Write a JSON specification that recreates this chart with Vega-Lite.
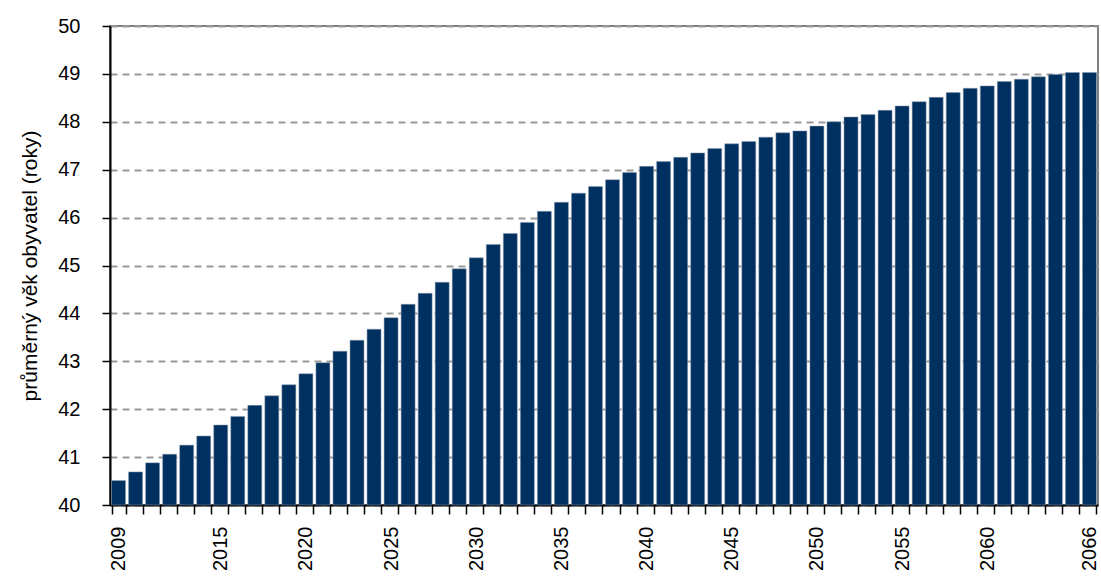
{
  "$schema": "https://vega.github.io/schema/vega-lite/v6.json",
  "width": 988,
  "height": 479,
  "autosize": {"type": "none"},
  "padding": {"left": 110, "top": 26, "right": 3, "bottom": 73},
  "background": "white",
  "config": {
    "font": "Liberation Sans",
    "view": {"stroke": "#7f7f7f", "strokeWidth": 2}
  },
  "data": {
    "values": [
      {"rok": 2009, "vek": 40.51}, {"rok": 2010, "vek": 40.69}, {"rok": 2011, "vek": 40.88},
      {"rok": 2012, "vek": 41.06}, {"rok": 2013, "vek": 41.25}, {"rok": 2014, "vek": 41.44},
      {"rok": 2015, "vek": 41.67}, {"rok": 2016, "vek": 41.85}, {"rok": 2017, "vek": 42.08},
      {"rok": 2018, "vek": 42.28}, {"rok": 2019, "vek": 42.51}, {"rok": 2020, "vek": 42.74},
      {"rok": 2021, "vek": 42.97}, {"rok": 2022, "vek": 43.21}, {"rok": 2023, "vek": 43.44},
      {"rok": 2024, "vek": 43.67}, {"rok": 2025, "vek": 43.91}, {"rok": 2026, "vek": 44.19},
      {"rok": 2027, "vek": 44.42}, {"rok": 2028, "vek": 44.65}, {"rok": 2029, "vek": 44.93},
      {"rok": 2030, "vek": 45.16}, {"rok": 2031, "vek": 45.44}, {"rok": 2032, "vek": 45.67},
      {"rok": 2033, "vek": 45.90}, {"rok": 2034, "vek": 46.13}, {"rok": 2035, "vek": 46.32},
      {"rok": 2036, "vek": 46.51}, {"rok": 2037, "vek": 46.65}, {"rok": 2038, "vek": 46.79},
      {"rok": 2039, "vek": 46.94}, {"rok": 2040, "vek": 47.07}, {"rok": 2041, "vek": 47.17},
      {"rok": 2042, "vek": 47.26}, {"rok": 2043, "vek": 47.35}, {"rok": 2044, "vek": 47.44},
      {"rok": 2045, "vek": 47.54}, {"rok": 2046, "vek": 47.59}, {"rok": 2047, "vek": 47.68},
      {"rok": 2048, "vek": 47.77}, {"rok": 2049, "vek": 47.81}, {"rok": 2050, "vek": 47.91},
      {"rok": 2051, "vek": 48.00}, {"rok": 2052, "vek": 48.10}, {"rok": 2053, "vek": 48.15},
      {"rok": 2054, "vek": 48.24}, {"rok": 2055, "vek": 48.33}, {"rok": 2056, "vek": 48.42},
      {"rok": 2057, "vek": 48.51}, {"rok": 2058, "vek": 48.61}, {"rok": 2059, "vek": 48.70},
      {"rok": 2060, "vek": 48.75}, {"rok": 2061, "vek": 48.84}, {"rok": 2062, "vek": 48.89},
      {"rok": 2063, "vek": 48.94}, {"rok": 2064, "vek": 48.99}, {"rok": 2065, "vek": 49.03},
      {"rok": 2066, "vek": 49.03}
    ]
  },
  "mark": {"type": "bar", "color": "#00305f", "stroke": "#8a9bb0", "strokeWidth": 0.5},
  "encoding": {
    "x": {
      "field": "rok",
      "type": "ordinal",
      "scale": {"paddingInner": 0.18, "paddingOuter": 0.09},
      "axis": {
        "title": null,
        "tickBand": "extent",
        "domainColor": "black",
        "domainWidth": 2,
        "tickColor": "black",
        "tickWidth": 1.5,
        "tickSize": 9,
        "labelAngle": 270,
        "labelFontSize": 20,
        "labelColor": "black",
        "labelPadding": 12,
        "labelOverlap": false,
        "labelExpr": "indexof([2009,2015,2020,2025,2030,2035,2040,2045,2050,2055,2060,2066], datum.value) >= 0 ? datum.label : ''"
      }
    },
    "y": {
      "field": "vek",
      "type": "quantitative",
      "scale": {"domain": [40, 50], "nice": false, "zero": false},
      "axis": {
        "title": "průměrný věk obyvatel (roky)",
        "titleFontSize": 21,
        "titleFontWeight": "normal",
        "titleColor": "black",
        "titlePadding": 17,
        "values": [40, 41, 42, 43, 44, 45, 46, 47, 48, 49, 50],
        "grid": true,
        "gridColor": "#9a9a9a",
        "gridDash": [7, 5],
        "gridWidth": 2,
        "domainColor": "black",
        "domainWidth": 2,
        "tickColor": "black",
        "tickWidth": 1.5,
        "tickSize": 8,
        "labelFontSize": 20,
        "labelColor": "black",
        "labelPadding": 22
      }
    },
    "y2": {"datum": 40}
  }
}
